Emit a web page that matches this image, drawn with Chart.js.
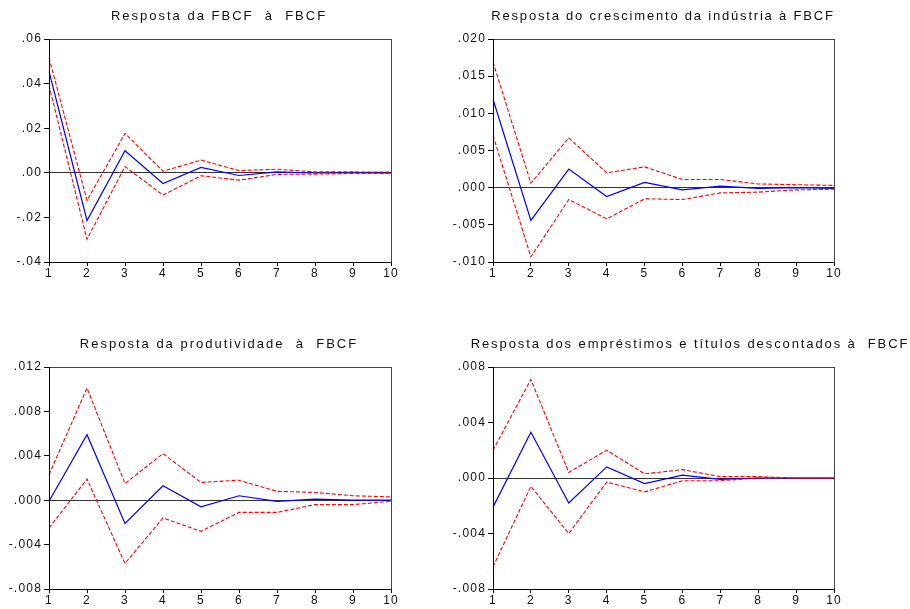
<!DOCTYPE html>
<html>
<head>
<meta charset="utf-8">
<script src="https://cdn.jsdelivr.net/npm/chart.js@4/dist/chart.umd.min.js"></script>
<style>
  body { margin: 0; background: #fff; }
  #wrap { position: relative; width: 910px; height: 609px; }
  #wrap canvas { position: absolute; left: 0; top: 0; }
</style>
</head>
<body>
<div id="wrap">
  <canvas id="c1" width="910" height="609"></canvas>
  <canvas id="c2" width="910" height="609"></canvas>
  <canvas id="c3" width="910" height="609"></canvas>
  <canvas id="c4" width="910" height="609"></canvas>
</div>
<script>
// horizons
var periods = ['1', '2', '3', '4', '5', '6', '7', '8', '9', '10'];

// FBCF -> FBCF
var fbcfResp  = [0.0455, -0.0214, 0.0099, -0.0048, 0.0024, -0.0012, 0.0004, -0.0001, 0.0001, 0.0000];
var fbcfUpper = [0.0516, -0.0124, 0.0177, 0.0007, 0.0057, 0.0010, 0.0016, 0.0004, 0.0004, 0.0003];
var fbcfLower = [0.0392, -0.0298, 0.0028, -0.0100, -0.0013, -0.0033, -0.0007, -0.0006, -0.0003, -0.0003];
var fbcfTicks = [-0.04, -0.02, 0, 0.02, 0.04, 0.06];
var fbcfTickLabels = ['-.04', '-.02', '.00', '.02', '.04', '.06'];

// crescimento da industria
var indResp  = [0.0119, -0.0044, 0.0025, -0.0012, 0.0007, -0.0003, 0.0002, -0.0001, 0.0000, -0.0001];
var indUpper = [0.0169, 0.0006, 0.0067, 0.0020, 0.0028, 0.0011, 0.0011, 0.0005, 0.0004, 0.0003];
var indLower = [0.0070, -0.0093, -0.0016, -0.0042, -0.0015, -0.0016, -0.0007, -0.0006, -0.0003, -0.0002];
var indTicks = [-0.010, -0.005, 0, 0.005, 0.010, 0.015, 0.020];
var indTickLabels = ['-.010', '-.005', '.000', '.005', '.010', '.015', '.020'];

// produtividade
var prodResp  = [-0.0001, 0.0059, -0.0021, 0.0013, -0.0006, 0.0004, -0.0001, 0.0001, 0.0000, 0.0000];
var prodUpper = [0.0023, 0.0101, 0.0015, 0.0042, 0.0016, 0.0018, 0.0008, 0.0007, 0.0004, 0.0003];
var prodLower = [-0.0025, 0.0019, -0.0057, -0.0016, -0.0028, -0.0011, -0.0011, -0.0004, -0.0004, -0.0001];
var prodTicks = [-0.008, -0.004, 0, 0.004, 0.008, 0.012];
var prodTickLabels = ['-.008', '-.004', '.000', '.004', '.008', '.012'];

// emprestimos e titulos descontados
var empResp  = [-0.0021, 0.0033, -0.0018, 0.0008, -0.0004, 0.0002, -0.0001, 0.0000, 0.0000, 0.0000];
var empUpper = [0.0020, 0.0071, 0.0004, 0.0020, 0.0003, 0.0006, 0.0001, 0.0001, 0.0000, 0.0000];
var empLower = [-0.0064, -0.0006, -0.0040, -0.0003, -0.0010, -0.0002, -0.0002, 0.0000, 0.0000, 0.0000];
var empTicks = [-0.008, -0.004, 0, 0.004, 0.008];
var empTickLabels = ['-.008', '-.004', '.000', '.004', '.008'];

var FONT = "'Liberation Sans', Arial, sans-serif";

// letter spaced text like the original + box + title
var panelPlugin = {
    id: 'panel',
    beforeDraw: function(chart) {
        chart.ctx.letterSpacing = '1.2px';
    },
    afterDraw: function(chart, args, opts) {
        var ctx = chart.ctx;
        var a = chart.chartArea;
        ctx.save();
        ctx.lineWidth = 1;
        ctx.strokeStyle = '#444';
        ctx.strokeRect(Math.round(a.left) + 0.5, Math.round(a.top) + 0.5,
            Math.round(a.right - a.left), Math.round(a.bottom - a.top));
        ctx.strokeStyle = '#000';
        ctx.beginPath();
        ctx.moveTo(Math.round(a.left) + 0.5, Math.round(a.top));
        ctx.lineTo(Math.round(a.left) + 0.5, Math.round(a.bottom) + 0.5);
        ctx.lineTo(Math.round(a.right) + 0.5, Math.round(a.bottom) + 0.5);
        ctx.stroke();
        ctx.font = '13px ' + FONT;
        ctx.letterSpacing = opts.spacing + 'px';
        ctx.fillStyle = '#111';
        ctx.textAlign = 'center';
        ctx.textBaseline = 'middle';
        ctx.fillText(opts.text, opts.x, opts.y);
        ctx.restore();
    }
};

function makePanel(id, title, resp, upper, lower, ticks, tickLabels, box, titlePos) {
    new Chart(document.getElementById(id), {
        type: 'line',
        data: {
            labels: periods,
            datasets: [{
                data: upper,
                borderColor: '#ff0000',
                borderWidth: 1.1,
                borderDash: [4, 2],
                pointRadius: 0
            }, {
                data: lower,
                borderColor: '#ff0000',
                borderWidth: 1.1,
                borderDash: [4, 2],
                pointRadius: 0
            }, {
                data: resp,
                borderColor: '#0000ff',
                borderWidth: 1.2,
                pointRadius: 0
            }]
        },
        options: {
            responsive: false,
            animation: false,
            layout: {
                padding: {
                    left: box.left - 40,
                    right: 910 - box.right,
                    top: box.top,
                    bottom: 609 - box.bottom - 20
                }
            },
            plugins: {
                legend: { display: false },
                tooltip: { enabled: false },
                panel: { text: title, x: titlePos[0], y: titlePos[1], spacing: titlePos[2] }
            },
            scales: {
                x: {
                    offset: false,
                    afterFit: function(s) { s.height = 20; },
                    grid: { color: 'transparent', tickColor: '#000', tickLength: 4 },
                    border: { display: false },
                    ticks: { color: '#111', font: { family: FONT, size: 12 }, padding: 0, maxRotation: 0, autoSkip: false }
                },
                y: {
                    min: ticks[0],
                    max: ticks[ticks.length - 1],
                    afterFit: function(s) { s.width = 40; },
                    afterBuildTicks: function(s) {
                        s.ticks = ticks.map(function(v) { return { value: v }; });
                    },
                    grid: {
                        color: function(c) { return c.tick && c.tick.value === 0 ? '#333' : 'transparent'; },
                        tickColor: '#000',
                        tickLength: 5
                    },
                    border: { display: false },
                    ticks: {
                        color: '#111',
                        font: { family: FONT, size: 12 },
                        padding: 2,
                        callback: function(v, i) { return tickLabels[i]; }
                    }
                }
            }
        },
        plugins: [panelPlugin]
    });
}

makePanel('c1', 'Resposta da FBCF  à  FBCF', fbcfResp, fbcfUpper, fbcfLower, fbcfTicks, fbcfTickLabels,
    { left: 49, right: 391, top: 39, bottom: 262 }, [219, 16, 2]);
makePanel('c2', 'Resposta do crescimento da indústria à FBCF', indResp, indUpper, indLower, indTicks, indTickLabels,
    { left: 493, right: 834, top: 39, bottom: 262 }, [663, 16, 1.8]);
makePanel('c3', 'Resposta da produtividade  à  FBCF', prodResp, prodUpper, prodLower, prodTicks, prodTickLabels,
    { left: 49, right: 391, top: 367, bottom: 589 }, [219, 344, 2]);
makePanel('c4', 'Resposta dos empréstimos e títulos descontados à  FBCF', empResp, empUpper, empLower, empTicks, empTickLabels,
    { left: 493, right: 834, top: 367, bottom: 589 }, [690, 344, 1.9]);

document.title = "Funções impulso-resposta";
</script>
</body>
</html>
